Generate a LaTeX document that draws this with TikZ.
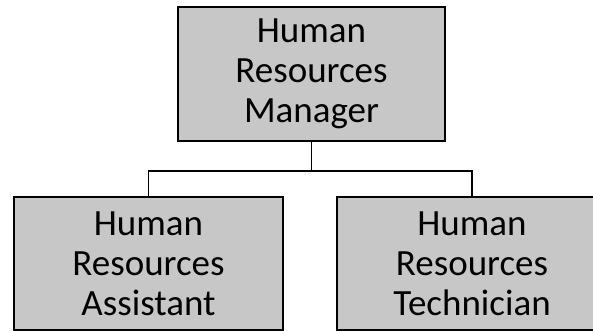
\documentclass[tikz,border=0pt]{standalone}
\usepackage{fontspec}
\setmainfont{Carlito}
\usepackage{tikz}
\usetikzlibrary{calc, positioning}

\tikzset{
    rolebox/.style={draw, line width=1.6pt, fill=black!22, align=center,
        inner sep=0pt, font=\fontsize{37}{40}\selectfont},
    link/.style={line width=1.4pt}
}

\begin{document}
\begin{tikzpicture}[x=1pt, y=1pt]
                \useasboundingbox (0,0) rectangle (593,331);
                \clip (0,0) rectangle (593,331);
        
                \node[rolebox, minimum width=267pt, minimum height=134pt] (mgr) at (311.5, 257) {Human\\Resources\\Manager};
                \node[rolebox, minimum width=269pt, minimum height=133pt] (asst) at (148.5, 67.5) {Human\\Resources\\Assistant};
                \node[rolebox, minimum width=270pt, minimum height=133pt] (tech) at (472, 67.5) {Human\\Resources\\Technician};
        
                \coordinate (split) at (mgr.south |- 0,160);
                \draw[link] (mgr.south) -- (split);
                \draw[link] (split) -| (asst.north);
                \draw[link] (split) -| (tech.north);
            \end{tikzpicture}
\end{document}
